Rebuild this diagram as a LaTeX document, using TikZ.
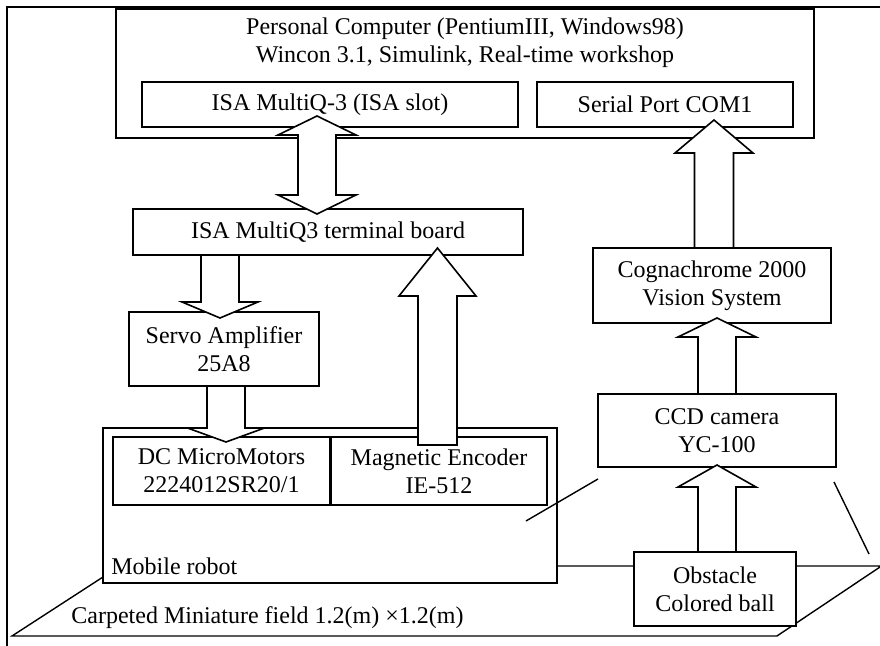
\documentclass[tikz,border=0pt]{standalone}
\usepackage{fontspec}
\setmainfont{Liberation Serif}
\newcommand{\bx}[6]{\node[box, minimum width={(#4-#2)*0.5pt}, minimum height={(#5-#3)*0.5pt}] (#1) at ({(#2+#4)/2},{(#3+#5)/2}) {#6};}
% cx, ystart, yheadbase, ytip, halfshaft, halfhead
\newcommand{\sarrow}[6]{\draw[barrow] ({#1-#5},#2) -- ({#1-#5},#3) -- ({#1-#6},#3) -- (#1,#4) -- ({#1+#6},#3) -- ({#1+#5},#3) -- ({#1+#5},#2) -- cycle;}
% cx, ytop, yhb1, yhb2, ybot, halfshaft, halfhead
\newcommand{\darrow}[7]{\draw[barrow] (#1,#2) -- ({#1+#7},#3) -- ({#1+#6},#3) -- ({#1+#6},#4) -- ({#1+#7},#4) -- (#1,#5) -- ({#1-#7},#4) -- ({#1-#6},#4) -- ({#1-#6},#3) -- ({#1-#7},#3) -- cycle;}
\begin{document}
\begin{tikzpicture}[x=0.5pt,y=-0.5pt,
  box/.style={draw, fill=white, line width=0.8pt, inner sep=0pt, align=center, font=\fontsize{12}{14}\selectfont},
  lbl/.style={inner sep=0pt, align=center, font=\fontsize{12}{14}\selectfont},
  barrow/.style={draw, fill=white, line width=0.8pt, line join=miter},
  thin/.style={line width=0.7pt}]
\useasboundingbox (0,0) rectangle (880,646);
% outer frame
\draw[line width=1pt] (7,646) -- (7,7) -- (880,7);
% PC
\bx{pc}{116}{9}{814}{138}{}
\node[lbl] (pctext) at (465,43) {Personal Computer (PentiumIII, Windows98)\\Wincon 3.1, Simulink, Real-time workshop};
\bx{isa}{142}{82}{518}{127}{ISA MultiQ-3 (ISA slot)}
\bx{com}{537}{82}{793}{127}{Serial Port COM1}
% middle
\bx{term}{133}{209}{523}{255}{ISA MultiQ3 terminal board}
\bx{servo}{129}{312}{319}{386}{Servo Amplifier\\25A8}
\bx{cogn}{593}{248}{831}{323}{Cognachrome 2000\\Vision System}
\bx{ccd}{598}{394}{836}{467}{CCD camera\\YC-100}
% field
\draw[thin] (12,636) -- (777,636) -- (881.5,566) -- (120,566) -- cycle;
\node[lbl, anchor=west] (field) at (71,618) {Carpeted Miniature field 1.2(m) \texttimes1.2(m)};
% robot
\bx{robot}{103}{428}{557}{583}{}
\node[lbl, anchor=west] (robottext) at (111,566) {Mobile robot};
\bx{dc}{113}{437}{330}{505}{DC MicroMotors\\2224012SR20/1}
\bx{enc}{331}{437}{547}{505}{Magnetic Encoder\\IE-512}
\bx{obst}{634}{552}{796}{626}{Obstacle\\Colored ball}
% camera view lines
\draw[thin] (598,479) -- (526,521);
\draw[thin] (834,482) -- (869,554);
% block arrows
\darrow{317}{116}{135}{195}{214}{19}{39}
\sarrow{220}{255}{302}{318}{19}{38}
\sarrow{226}{386}{428}{442}{19}{38.5}
\sarrow{437.5}{445}{296}{248}{19.5}{38.5}
\sarrow{714}{248}{153}{120}{19.5}{39}
\sarrow{717}{394}{337}{318}{19}{39}
\sarrow{717}{552}{487}{465}{19}{39}
\end{tikzpicture}
\end{document}
